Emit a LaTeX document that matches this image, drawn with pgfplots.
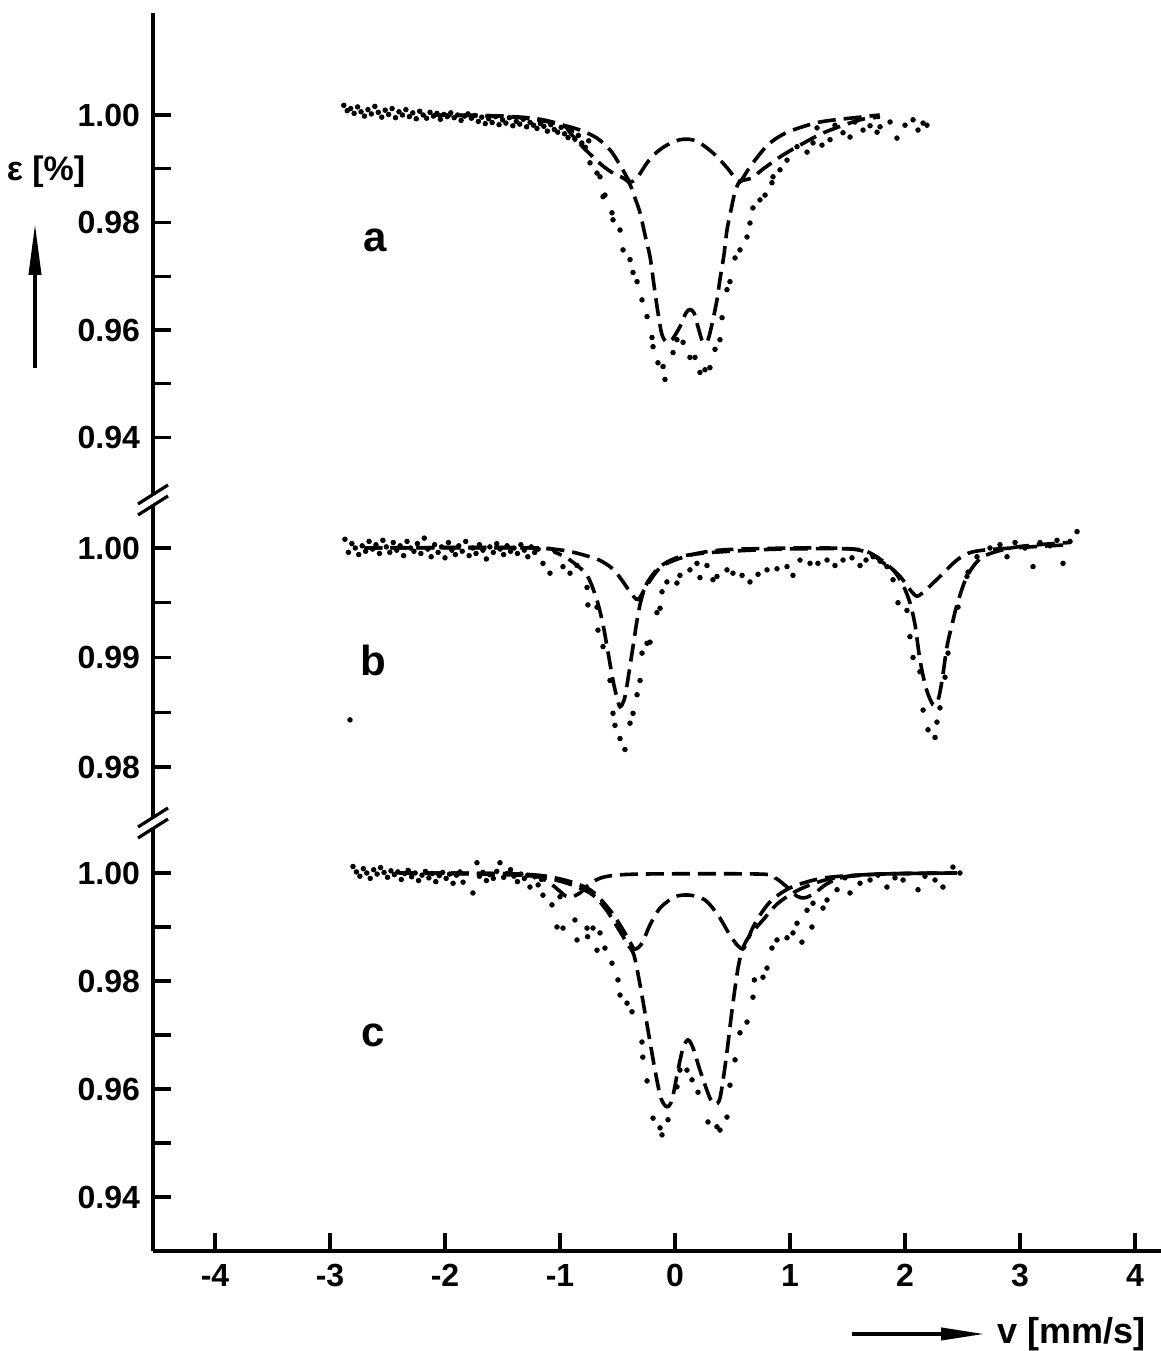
\documentclass[border=0pt]{standalone}
\usepackage{pgfplots}
\pgfplotsset{compat=1.18}
\usepackage{fontspec}
\setmainfont{Liberation Sans}
\usetikzlibrary{arrows.meta}

\pgfplotsset{
  panel/.style={
    scale only axis, width=504pt, xmin=-4.539, xmax=4.226,
    axis y line*=left, axis line style={-, line width=1.8pt},
    tick align=inside, major tick length=9pt, minor tick length=9pt,
    tick style={line width=1.6pt, black},
    yticklabel style={font=\fontsize{16}{18}\selectfont\bfseries, xshift=-3pt},
    xticklabel style={font=\fontsize{16}{18}\selectfont\bfseries, yshift=-3pt},
  },
  fit/.style={no marks, black, line width=1.8pt, dash pattern=on 9pt off 4pt, smooth, tension=0.5},
  obs/.style={only marks, mark=*, mark size=1.15pt, black},
}

\begin{document}
\begin{tikzpicture}
\useasboundingbox (0pt,0pt) rectangle (580.5pt,675.5pt);

% ---- panel a
\begin{axis}[panel, at={(76.5pt,425.5pt)}, anchor=south west, height=243.5pt,
  ymin=0.92837, ymax=1.01898, hide x axis,
  ytick={0.94,0.96,0.98,1.00}, yticklabels={0.94,0.96,0.98,1.00},
  minor ytick={0.95,0.97,0.99}]
\addplot[obs] coordinates {
(-2.88,1.0018) (-2.85,1.0008) (-2.82,1.0012) (-2.79,1.0003) (-2.76,1.0015) (-2.73,1.0006)
(-2.70,0.9998) (-2.67,1.0010) (-2.64,1.0002) (-2.61,1.0016) (-2.58,1.0005) (-2.55,0.9996)
(-2.52,1.0009) (-2.49,1.0001) (-2.46,1.0012) (-2.43,0.9995) (-2.40,1.0006) (-2.37,1.0000)
(-2.34,1.0010) (-2.31,0.9997) (-2.28,1.0004) (-2.25,0.9993) (-2.22,1.0007) (-2.19,1.0000)
(-2.16,0.9994) (-2.13,1.0005) (-2.10,0.9998) (-2.07,1.0003) (-2.04,0.9992) (-2.01,1.0001)
(-1.98,0.9997) (-1.95,1.0004) (-1.92,0.9995) (-1.89,1.0000) (-1.86,0.9990) (-1.83,0.9998)
(-1.80,1.0002) (-1.77,0.9994) (-1.74,0.9999) (-1.71,0.9988) (-1.68,0.9996) (-1.65,0.9984)
(-1.62,0.9993) (-1.59,0.9986) (-1.56,0.9997) (-1.53,0.9982) (-1.50,0.9991) (-1.47,0.9985)
(-1.44,0.9995) (-1.41,0.9980) (-1.38,0.9988) (-1.35,0.9983) (-1.32,0.9992) (-1.29,0.9978)
(-1.26,0.9986) (-1.23,0.9981) (-1.20,0.9975) (-1.17,0.9984) (-1.14,0.9979) (-1.11,0.9970)
(-1.08,0.9982) (-1.05,0.9973) (-1.02,0.9968) (-0.99,0.9977) (-0.96,0.9965) (-0.93,0.9958)
(-0.90,0.9970) (-0.87,0.9955) (-0.84,0.9962) (-0.81,0.9948) (-0.78,0.9940) (-0.75,0.9952)
(-0.739,0.9911) (-0.678,0.9892) (-0.652,0.9885) (-0.626,0.9848) (-0.609,0.9851)
(-0.548,0.9818) (-0.539,0.9805) (-0.478,0.9786) (-0.452,0.9749) (-0.391,0.9731)
(-0.365,0.9707) (-0.330,0.9690) (-0.287,0.9656) (-0.243,0.9625) (-0.200,0.9586)
(-0.191,0.9569) (-0.148,0.9539) (-0.104,0.9532) (-0.087,0.9508) (-0.017,0.9558)
(0.017,0.9582) (0.070,0.9577) (0.130,0.9549) (0.174,0.9549) (0.217,0.9521)
(0.261,0.9526) (0.304,0.9530) (0.348,0.9564) (0.391,0.9582) (0.409,0.9623)
(0.452,0.9675) (0.478,0.9690) (0.522,0.9734) (0.565,0.9749) (0.626,0.9773)
(0.652,0.9799) (0.678,0.9827) (0.739,0.9842) (0.783,0.9851) (0.843,0.9874)
(0.852,0.9885) (0.913,0.9898) (0.974,0.9916) (1.061,0.9941) (1.148,0.9931)
(1.200,0.9948) (1.235,0.9976) (1.278,0.9944) (1.348,0.9954) (1.391,0.9981)
(1.461,0.9967) (1.522,0.9959) (1.565,0.9987) (1.635,0.9972) (1.696,0.9980)
(1.757,0.9968) (1.783,0.9978) (1.870,0.9987) (1.930,0.9957) (2.000,0.9981)
(2.070,0.9991) (2.113,0.9972) (2.157,0.9985) (2.191,0.9981)
};
% total fit
\addplot[fit] coordinates {
(-2.10,1.0000) (-1.522,0.9998) (-1.200,0.9993) (-0.974,0.9981) (-0.913,0.9967)
(-0.809,0.9942) (-0.713,0.9922) (-0.626,0.9905) (-0.539,0.9892) (-0.470,0.9885)
(-0.400,0.9874) (-0.357,0.9851) (-0.304,0.9818) (-0.261,0.9777) (-0.217,0.9736)
(-0.183,0.9684) (-0.148,0.9632) (-0.113,0.9591) (-0.070,0.9577) (-0.026,0.9582)
(0.043,0.9606) (0.096,0.9632) (0.130,0.9638) (0.165,0.9632) (0.200,0.9606)
(0.243,0.9577) (0.287,0.9582) (0.330,0.9619) (0.365,0.9656) (0.391,0.9694)
(0.426,0.9740) (0.452,0.9786) (0.487,0.9823) (0.522,0.9857) (0.565,0.9876)
(0.670,0.9883) (0.757,0.9898) (0.913,0.9922) (1.087,0.9944) (1.304,0.9968)
(1.609,0.9991) (1.783,0.9996)
};
% broad doublet
\addplot[fit] coordinates {
(-2.10,1.0000) (-1.52,0.9998) (-1.20,0.9991) (-0.974,0.9981) (-0.826,0.9972)
(-0.678,0.9957) (-0.565,0.9935) (-0.504,0.9916) (-0.443,0.9894) (-0.391,0.9876)
(-0.330,0.9883) (-0.243,0.9911) (-0.157,0.9931) (-0.070,0.9944) (0.043,0.9954)
(0.148,0.9954) (0.243,0.9944) (0.348,0.9926) (0.452,0.9902) (0.522,0.9883)
(0.565,0.9876) (0.635,0.9898) (0.696,0.9916) (0.783,0.9939) (0.870,0.9955)
(1.000,0.9970) (1.261,0.9987) (1.609,0.9996) (1.780,1.0000)
};
\end{axis}

% ---- panel b
\begin{axis}[panel, at={(76.5pt,264pt)}, anchor=south west, height=161.5pt,
  ymin=0.974886, ymax=1.004384, hide x axis,
  ytick={0.98,0.99,1.00}, yticklabels={0.98,0.99,1.00},
  minor ytick={0.985,0.995}]
\addplot[obs] coordinates {
(-2.87,1.0008) (-2.84,0.9996) (-2.81,1.0004) (-2.78,1.0000) (-2.75,0.9994) (-2.72,1.0002)
(-2.69,0.9997) (-2.66,1.0006) (-2.63,0.9999) (-2.60,1.0003) (-2.57,0.9995) (-2.54,1.0007)
(-2.51,1.0001) (-2.48,0.9996) (-2.45,1.0005) (-2.42,0.9998) (-2.39,1.0002) (-2.36,0.9993)
(-2.33,1.0006) (-2.30,1.0000) (-2.27,0.9997) (-2.24,1.0004) (-2.21,0.9995) (-2.18,1.0009)
(-2.15,0.9999) (-2.12,0.9992) (-2.09,1.0003) (-2.06,0.9996) (-2.03,1.0001) (-2.00,0.9991)
(-1.97,1.0005) (-1.94,0.9998) (-1.91,0.9994) (-1.88,1.0002) (-1.85,0.9997) (-1.82,1.0006)
(-1.79,0.9993) (-1.76,1.0000) (-1.73,0.9995) (-1.70,1.0003) (-1.67,0.9998) (-1.64,0.9990)
(-1.61,1.0001) (-1.58,0.9996) (-1.55,1.0004) (-1.52,0.9999) (-1.49,0.9994) (-1.46,1.0002)
(-1.43,0.9997) (-1.40,1.0000) (-1.37,0.9995) (-1.34,1.0003) (-1.31,0.9998) (-1.28,0.9992)
(-1.25,1.0001) (-1.22,0.9996) (-1.19,0.9999)
(-2.826,0.9843)
(-1.148,0.9986) (-1.087,0.9977) (-0.974,0.9983) (-0.913,0.9977) (-0.852,0.9984)
(-0.765,0.9964) (-0.757,0.9948) (-0.678,0.9946) (-0.670,0.9925) (-0.626,0.9910)
(-0.565,0.9879) (-0.539,0.9849) (-0.522,0.9838) (-0.478,0.9826) (-0.435,0.9816)
(-0.391,0.9840) (-0.365,0.9849) (-0.330,0.9866) (-0.304,0.9879) (-0.287,0.9904)
(-0.243,0.9913) (-0.217,0.9914) (-0.157,0.9941) (-0.130,0.9945) (-0.113,0.9960)
(-0.070,0.9969) (0.017,0.9968) (0.043,0.9975) (0.130,0.9980) (0.191,0.9986)
(0.217,0.9973) (0.278,0.9984) (0.330,0.9971) (0.365,0.9974) (0.452,0.9980)
(0.504,0.9977) (0.583,0.9975) (0.652,0.9969) (0.722,0.9976) (0.800,0.9980)
(0.887,0.9981) (0.974,0.9983) (1.026,0.9975) (1.087,0.9989) (1.174,0.9986)
(1.243,0.9986) (1.322,0.9989) (1.391,0.9984) (1.461,0.9989) (1.539,0.9991)
(1.609,0.9984) (1.661,0.9989) (1.722,0.9992) (1.783,0.9988) (1.843,0.9983)
(1.896,0.9971) (1.939,0.9950) (2.017,0.9943) (2.043,0.9919) (2.070,0.9900)
(2.130,0.9887) (2.157,0.9852) (2.200,0.9834) (2.261,0.9827) (2.278,0.9841)
(2.304,0.9854) (2.348,0.9882) (2.374,0.9904) (2.461,0.9946) (2.539,0.9974)
(2.548,0.9978) (2.626,0.9992) (2.739,1.0000) (2.826,1.0003) (2.887,0.9992)
(2.957,1.0005) (3.043,1.0000) (3.113,0.9983) (3.174,1.0005) (3.261,1.0002)
(3.322,1.0007) (3.374,0.9986) (3.435,1.0006) (3.496,1.0015)
};
% total fit
\addplot[fit] coordinates {
(-2.70,1.0000) (-1.200,1.0000) (-1.043,0.9996) (-0.913,0.9989) (-0.765,0.9975)
(-0.678,0.9952) (-0.626,0.9930) (-0.591,0.9910) (-0.539,0.9879) (-0.504,0.9863)
(-0.478,0.9855) (-0.443,0.9861) (-0.417,0.9875) (-0.365,0.9910) (-0.330,0.9934)
(-0.296,0.9952) (-0.243,0.9968) (-0.130,0.9983) (0.043,0.9992) (0.330,0.9996)
(0.913,0.9999) (1.548,0.9999) (1.722,0.9994) (1.896,0.9980) (1.983,0.9966)
(2.043,0.9950) (2.087,0.9930) (2.130,0.9898) (2.183,0.9872) (2.243,0.9857)
(2.287,0.9861) (2.322,0.9879) (2.365,0.9910) (2.409,0.9930) (2.452,0.9948)
(2.539,0.9974) (2.678,0.9992) (2.974,1.0001) (3.435,1.0005)
};
% broad doublet
\addplot[fit] coordinates {
(-2.70,1.0000) (-1.200,1.0000) (-0.739,0.9992) (-0.565,0.9983) (-0.478,0.9973)
(-0.391,0.9960) (-0.322,0.9953) (-0.243,0.9966) (-0.104,0.9984) (0.191,0.9995)
(0.565,0.9999) (1.548,0.9999) (1.843,0.9984) (1.957,0.9974) (2.043,0.9962)
(2.104,0.9956) (2.174,0.9961) (2.304,0.9974) (2.478,0.9991) (2.678,0.9998)
(3.435,1.0003)
};
\end{axis}

% ---- panel c
\begin{axis}[panel, at={(76.5pt,50pt)}, anchor=south west, height=214pt,
  ymin=0.93, ymax=1.009259, axis x line*=bottom,
  xtick={-4,-3,-2,-1,0,1,2,3,4}, xticklabels={-4,-3,-2,-1,0,1,2,3,4},
  ytick={0.94,0.96,0.98,1.00}, yticklabels={0.94,0.96,0.98,1.00},
  minor ytick={0.95,0.97,0.99}]
\addplot[obs] coordinates {
(-2.80,1.0012) (-2.77,1.0002) (-2.74,0.9994) (-2.71,1.0008) (-2.68,1.0000) (-2.65,0.9990)
(-2.62,1.0006) (-2.59,0.9998) (-2.56,1.0010) (-2.53,1.0001) (-2.50,0.9992) (-2.47,1.0004)
(-2.44,0.9997) (-2.41,1.0002) (-2.38,0.9988) (-2.35,0.9999) (-2.32,1.0005) (-2.29,0.9993)
(-2.26,1.0000) (-2.23,0.9986) (-2.20,0.9996) (-2.17,1.0003) (-2.14,0.9991) (-2.11,0.9999)
(-2.08,0.9984) (-2.05,0.9995) (-2.02,1.0001) (-1.99,0.9990) (-1.96,0.9998) (-1.93,0.9981)
(-1.90,0.9996) (-1.87,1.0002) (-1.843,0.9983) (-1.757,0.9963) (-1.722,1.0019)
(-1.70,0.9994) (-1.67,1.0001) (-1.64,0.9986) (-1.61,0.9997) (-1.58,0.9990) (-1.55,1.0003)
(-1.522,1.0019) (-1.49,0.9992) (-1.46,0.9999) (-1.43,1.0006) (-1.40,0.9994) (-1.37,0.9984)
(-1.34,0.9998) (-1.31,0.9990) (-1.28,0.9996) (-1.261,0.9974) (-1.22,0.9993) (-1.19,0.9978)
(-1.16,0.9988) (-1.148,0.9959) (-1.070,0.9941) (-1.026,0.9900) (-1.000,0.9956)
(-0.974,0.9898) (-0.870,0.9913) (-0.852,0.9876) (-0.765,0.9898) (-0.760,0.9882)
(-0.713,0.9898) (-0.678,0.9857) (-0.652,0.9889) (-0.609,0.9861) (-0.548,0.9833)
(-0.496,0.9802) (-0.478,0.9774) (-0.417,0.9759) (-0.374,0.9743) (-0.287,0.9687)
(-0.280,0.9659) (-0.243,0.9615) (-0.191,0.9546) (-0.130,0.9528) (-0.113,0.9515)
(-0.061,0.9543) (0.017,0.9604) (0.043,0.9635) (0.104,0.9635) (0.148,0.9617)
(0.200,0.9594) (0.287,0.9539) (0.365,0.9530) (0.391,0.9524) (0.452,0.9548)
(0.478,0.9607) (0.522,0.9654) (0.565,0.9704) (0.626,0.9724) (0.678,0.9770)
(0.690,0.9802) (0.765,0.9807) (0.800,0.9824) (0.843,0.9861) (0.887,0.9876)
(0.974,0.9880) (1.026,0.9889) (1.061,0.9907) (1.104,0.9872) (1.148,0.9931)
(1.191,0.9900) (1.200,0.9944) (1.287,0.9935) (1.322,0.9950) (1.409,0.9969)
(1.478,0.9991) (1.522,0.9963) (1.609,0.9981) (1.696,0.9987) (1.765,0.9996)
(1.843,0.9974) (1.913,0.9991) (1.983,0.9987) (2.113,0.9969) (2.174,0.9994)
(2.261,0.9987) (2.330,0.9974) (2.417,1.0011) (2.478,1.0000)
};
% third (weak) doublet
\addplot[fit] coordinates {
(-2.40,1.0000) (-1.348,0.9998) (-1.130,0.9987) (-1.017,0.9969) (-0.948,0.9957)
(-0.896,0.9956) (-0.826,0.9963) (-0.739,0.9980) (-0.609,0.9993) (-0.304,0.9998)
(0.739,0.9998) (0.870,0.9991) (0.974,0.9974) (1.061,0.9957) (1.130,0.9954)
(1.217,0.9963) (1.322,0.9980) (1.478,0.9993) (1.783,0.9998) (2.45,1.0000)
};
% broad doublet
\addplot[fit] coordinates {
(-2.40,1.0000) (-1.348,0.9998) (-1.000,0.9989) (-0.739,0.9969) (-0.565,0.9931)
(-0.461,0.9898) (-0.391,0.9872) (-0.348,0.9859) (-0.287,0.9870) (-0.217,0.9904)
(-0.130,0.9935) (0.000,0.9956) (0.130,0.9959) (0.261,0.9950) (0.374,0.9922)
(0.478,0.9885) (0.548,0.9865) (0.600,0.9861) (0.670,0.9896) (0.739,0.9922)
(0.843,0.9950) (1.017,0.9974) (1.304,0.9991) (1.783,0.9998) (2.45,1.0000)
};
% total fit
\addplot[fit] coordinates {
(-2.40,1.0000) (-1.348,0.9996) (-1.000,0.9985) (-0.739,0.9963) (-0.609,0.9935)
(-0.496,0.9898) (-0.409,0.9867) (-0.357,0.9848) (-0.304,0.9793) (-0.243,0.9719)
(-0.174,0.9635) (-0.122,0.9583) (-0.070,0.9567) (-0.026,0.9580) (0.026,0.9635)
(0.070,0.9676) (0.113,0.9691) (0.157,0.9676) (0.217,0.9635) (0.304,0.9583)
(0.348,0.9572) (0.391,0.9583) (0.443,0.9654) (0.496,0.9746) (0.548,0.9824)
(0.591,0.9861) (0.652,0.9885) (0.765,0.9913) (0.896,0.9944) (1.087,0.9970)
(1.348,0.9989) (1.783,0.9998) (2.45,1.0000)
};
\end{axis}

% axis breaks
\fill[white] (69pt,418pt) -- (84pt,427.5pt) -- (84pt,433pt) -- (69pt,423.5pt) -- cycle;
\draw[line width=1.6pt] (69pt,418pt) -- (84pt,427.5pt) (69pt,423.5pt) -- (84pt,433pt);
\fill[white] (69pt,256.5pt) -- (84pt,266pt) -- (84pt,271.5pt) -- (69pt,262pt) -- cycle;
\draw[line width=1.6pt] (69pt,256.5pt) -- (84pt,266pt) (69pt,262pt) -- (84pt,271.5pt);

% labels and arrows
\node[font=\fontsize{17}{19}\selectfont\bfseries] at (23pt,589.5pt) {ε [\%]};
\draw[line width=2pt, -{Triangle[length=26pt,width=6pt]}] (17.5pt,491.5pt) -- (17.5pt,564pt);
\draw[line width=2pt, -{Triangle[length=22pt,width=6pt]}] (426pt,8.5pt) -- (492.5pt,8.5pt);
\node[font=\fontsize{18}{20}\selectfont\bfseries, anchor=west] at (495pt,8.5pt) {v [mm/s]};
\node[font=\fontsize{21}{23}\selectfont\bfseries] at (187.5pt,555.5pt) {a};
\node[font=\fontsize{21}{23}\selectfont\bfseries] at (186.5pt,345.5pt) {b};
\node[font=\fontsize{21}{23}\selectfont\bfseries] at (186.5pt,158pt) {c};
\end{tikzpicture}
\end{document}
